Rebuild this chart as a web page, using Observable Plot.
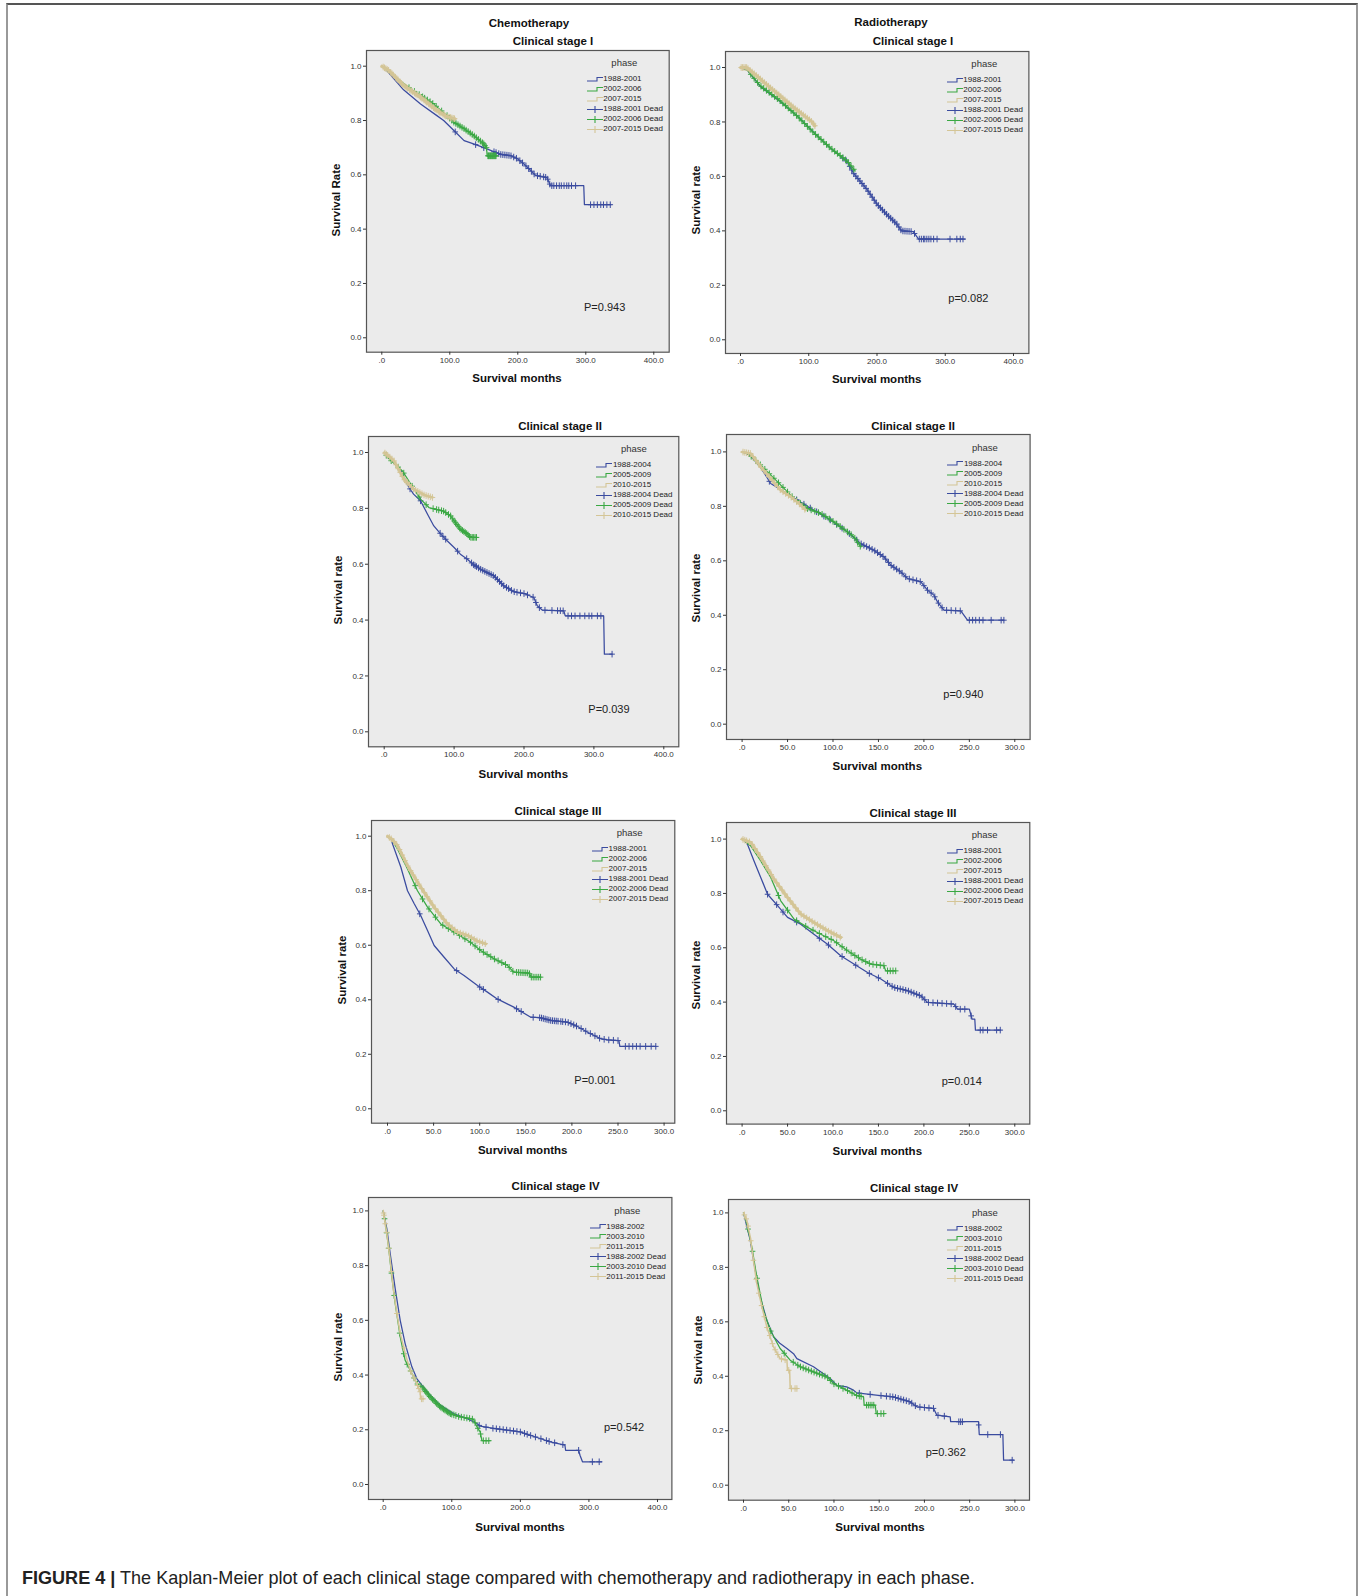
<!DOCTYPE html>
<html><head><meta charset="utf-8">
<script src="https://cdn.jsdelivr.net/npm/d3@7"></script>
<script src="https://cdn.jsdelivr.net/npm/@observablehq/plot@0.6"></script>
<style>
body{margin:0;background:#fff;}
#page{position:relative;width:1362px;height:1596px;overflow:hidden;font-family:"Liberation Sans",Arial,sans-serif;color:#111;}
.abs{position:absolute;white-space:nowrap;line-height:1;}
svg{overflow:visible;}
</style></head><body><div id="page"></div><script>
// ---------- tick labels ----------
const xTicks400 = [0, 100, 200, 300, 400];
const xTicks300 = [0, 50, 100, 150, 200, 250, 300];
const yTicks = [0, 0.2, 0.4, 0.6, 0.8, 1.0];

// ---------- legend labels ----------
const phasesA = ["1988-2001", "2002-2006", "2007-2015"];
const phasesB = ["1988-2004", "2005-2009", "2010-2015"];
const phasesC = ["1988-2002", "2003-2010", "2011-2015"];

// ---------- Chemotherapy, stage I ----------
const chemoI_s1 = [[0,1],[5,0.99],[15,0.962],[32,0.913],[57,0.861],[81,0.818],[91,0.8],[106,0.763],[121,0.726],[135,0.714],[150,0.7],[160,0.69],[175,0.675],[189,0.671],[199,0.66],[209,0.64],[219,0.616],[226,0.598],[243,0.59],[248,0.56],[297,0.56],[298,0.49],[337,0.49]];
const chemoI_s2 = [[0,1],[20,0.96],[42,0.917],[57,0.892],[76,0.861],[96,0.818],[106,0.794],[121,0.77],[135,0.745],[150,0.714],[154,0.7],[155,0.67],[170,0.67]];
const chemoI_s3 = [[0,1],[10,0.985],[32,0.929],[57,0.886],[81,0.837],[95,0.815],[108,0.806]];
const chemoI_c1 = [108,138,150,165,168,172,175,178,181,184,187,190,194,198,203,207,212,216,220,224,229,233,238,241,244,247,250,253,257,261,264,268,272,275,279,285,307,312,317,322,326,331,336];
const chemoI_c2 = [40,48,55,60,63,67,71,75,80,88,96,100,103,106,109,112,115,118,121,124,127,130,133,136,139,142,145,148,150,152,154,156,157,158,159,160,161,162,163,164,165,166,167,168];
const chemoI_c3 = [2,4,6,8,10,13,15,17,20,22,24,27,29,31,34,36,38,41,43,45,48,50,52,55,57,59,62,64,66,69,71,73,76,78,80,83,85,87,90,92,94,97,99,101,103,105,107];

// ---------- Radiotherapy, stage I ----------
const radioI_s1 = [[0,1],[10,0.99],[29,0.93],[58,0.875],[83,0.822],[107,0.762],[131,0.705],[156,0.655],[166,0.61],[185,0.553],[200,0.498],[214,0.461],[229,0.425],[236,0.4],[253,0.397],[261,0.37],[329,0.37]];
const radioI_s2 = [[0,1],[10,0.99],[29,0.933],[58,0.878],[83,0.822],[107,0.761],[131,0.706],[156,0.657],[168,0.62]];
const radioI_s3 = [[0,1],[9,1.0],[24,0.969],[43,0.927],[58,0.896],[78,0.853],[97,0.816],[105,0.8],[109,0.786]];
const radioI_c1 = [150,155,160,163,166,169,172,175,178,181,184,187,190,193,196,199,202,205,208,211,214,217,220,223,226,229,232,235,238,241,244,247,250,255,262,265,268,270,273,276,279,283,288,307,317,322,326];
const radioI_c2 = [15,20,25,30,34,38,42,46,50,54,58,62,66,70,74,78,82,86,90,94,98,102,106,110,114,118,122,126,130,134,138,142,146,150,154,158,162,166];
const radioI_c3 = [1,3,5,7,9,11,14,17,20,23,26,29,32,35,38,41,44,47,50,53,56,59,62,65,68,71,74,77,80,83,86,89,92,95,98,101,104,107,109];

// ---------- Chemotherapy, stage II ----------
const chemoII_s1 = [[0,1],[10,0.975],[25,0.93],[34,0.881],[42,0.851],[52,0.827],[62,0.779],[71,0.737],[81,0.708],[90,0.684],[100,0.66],[109,0.636],[119,0.618],[128,0.598],[138,0.582],[157,0.558],[171,0.523],[185,0.502],[200,0.495],[214,0.481],[219,0.451],[226,0.436],[257,0.433],[259,0.415],[314,0.415],[315,0.278],[326,0.278]];
const chemoII_s2 = [[0,1],[2,0.994],[5,0.982],[26,0.934],[38,0.887],[52,0.833],[64,0.803],[73,0.797],[85,0.79],[95,0.773],[100,0.755],[109,0.726],[119,0.708],[123,0.696],[132,0.696]];
const chemoII_s3 = [[0,1],[5,0.99],[14,0.97],[28,0.905],[42,0.869],[57,0.848],[69,0.839]];
const chemoII_c1 = [37,52,80,84,88,105,118,125,128,130,132,135,138,141,144,147,150,153,156,159,162,165,168,171,175,178,182,186,190,195,200,205,213,217,222,230,240,248,252,256,263,268,273,280,287,293,297,305,310,326];
const chemoII_c2 = [3,10,20,28,40,50,60,70,75,78,82,85,88,92,95,98,100,102,104,106,108,110,112,114,116,118,120,122,124,126,128,130,132];
const chemoII_c3 = [1,3,5,8,11,14,17,20,23,26,29,31,33,36,39,42,45,48,51,54,57,60,63,66,69];

// ---------- Radiotherapy, stage II ----------
const radioII_s1 = [[0,1],[8,0.99],[20,0.945],[31.5,0.884],[42,0.862],[61,0.822],[79,0.786],[97.6,0.749],[116,0.706],[130.5,0.663],[145,0.639],[156,0.614],[163.6,0.584],[174.6,0.559],[182,0.535],[196.6,0.523],[204,0.492],[211,0.474],[215,0.449],[222,0.419],[240.6,0.416],[248,0.382],[288,0.382]];
const radioII_s2 = [[0,1],[8,0.99],[20.5,0.951],[39,0.89],[57,0.829],[72,0.792],[86.5,0.774],[101,0.743],[116,0.706],[123,0.688],[130.5,0.651]];
const radioII_s3 = [[0,1],[9.5,0.994],[20.5,0.945],[31.5,0.902],[42.5,0.859],[53.5,0.835],[62.7,0.81],[70,0.786]];
const radioII_c1 = [30,60,68,75,82,90,97,104,110,118,126,131,134,137,140,143,146,149,152,155,158,161,164,167,170,173,176,180,184,188,192,196,200,204,208,212,216,220,225,230,235,240,250,253.6,257,261,265,274,285,288];
const radioII_c2 = [10,15,20,25,30,35,40,45,50,55,60,64,68,72,76,80,84,88,92,96,100,104,108,112,116,120,124,127,130];
const radioII_c3 = [1,3,5,7,9,12,15,18,21,24,27,30,33,36,39,42,45,48,51,54,57,60,63,66,69];

// ---------- Chemotherapy, stage III ----------
const chemoIII_s1 = [[0,1],[4,0.99],[5.4,0.972],[14.5,0.886],[21.7,0.8],[29,0.752],[36,0.709],[43.4,0.654],[50.6,0.599],[61.4,0.556],[72.3,0.513],[83,0.489],[97.6,0.452],[108.4,0.428],[119,0.403],[137,0.373],[155.4,0.336],[166,0.334],[177,0.324],[195,0.318],[206,0.302],[217,0.281],[227.7,0.263],[231,0.257],[238.5,0.253],[251,0.25],[252,0.229],[291,0.229]];
const chemoIII_s2 = [[0,1],[5,0.985],[10.8,0.953],[21.7,0.88],[32.5,0.8],[43.4,0.74],[57.8,0.678],[72.3,0.648],[90,0.611],[101,0.581],[115.7,0.55],[130,0.526],[137,0.501],[153.6,0.498],[156,0.483],[166,0.483]];
const chemoIII_s3 = [[0,1],[5.4,0.987],[10.8,0.966],[21.7,0.892],[36,0.813],[50.6,0.74],[65,0.678],[76,0.648],[86.7,0.636],[97.6,0.615],[106.6,0.605]];
const chemoIII_c1 = [35,75,100,104,120,140,145,158,165,167,169,171,173,175,177,179,181,183,185,188,190,193,196,199,202,205,210,215,220,225,230,235,240,245,250,258,262,266,270,274,280,286,291];
const chemoIII_c2 = [30,38,45,52,60,66,72,78,84,90,95,100,104,108,112,116,120,124,128,132,136,140,142,144,146,148,150,152,154,156,158,160,162,164,166];
const chemoIII_c3 = [2,4,7,10,13,16,19,22,25,28,31,34,37,40,43,46,49,52,55,58,61,64,67,70,73,76,79,82,85,88,91,94,97,100,103,106];

// ---------- Radiotherapy, stage III ----------
const radioIII_s1 = [[0,1],[3,0.995],[6,0.98],[13,0.92],[20.5,0.859],[28,0.797],[39,0.755],[50,0.712],[64.5,0.687],[79,0.65],[94,0.613],[108.5,0.571],[123,0.54],[138,0.509],[152.6,0.485],[167,0.454],[182,0.442],[196.6,0.423],[204,0.399],[233,0.393],[237,0.374],[250,0.374],[253,0.337],[256,0.337],[256.7,0.297],[284.6,0.297]];
const radioIII_s2 = [[0,1],[9.5,0.975],[20.5,0.92],[31.5,0.859],[42.5,0.773],[57,0.706],[72,0.675],[86.5,0.65],[101,0.626],[116,0.589],[130.5,0.558],[141.6,0.54],[156,0.534],[158,0.515],[169,0.515]];
const radioIII_s3 = [[0,1],[9.5,0.988],[20.5,0.933],[35,0.853],[50,0.785],[64.5,0.724],[79,0.693],[94,0.663],[108.5,0.638]];
const radioIII_c1 = [28,38,45,60,85,95,110,125,140,150,160,165,168,171,174,177,180,183,186,189,192,195,198,201,205,210,215,220,225,230,235,240,245,252,262,265,270,280,284];
const radioIII_c2 = [40,50,60,70,78,85,92,98,104,110,115,120,124,128,132,136,140,144,148,152,156,160,163,166,169];
const radioIII_c3 = [1,3,5,8,11,14,17,20,23,26,29,32,35,38,41,44,47,50,53,56,59,62,65,68,71,74,77,80,83,86,89,92,95,98,101,104,108];

// ---------- Chemotherapy, stage IV ----------
const chemoIV_s1 = [[0,1],[5.3,0.935],[10.2,0.844],[17.5,0.716],[24.8,0.6],[32,0.515],[41.8,0.43],[49,0.387],[56.4,0.363],[68.5,0.326],[83,0.29],[102.5,0.259],[122,0.241],[136.6,0.223],[141.4,0.213],[161,0.205],[180,0.199],[200,0.192],[214,0.18],[229,0.168],[243.5,0.156],[265,0.144],[266,0.125],[285,0.125],[287,0.107],[290.6,0.083],[319,0.083]];
const chemoIV_s2 = [[0,1],[3,0.957],[7.8,0.868],[12.6,0.759],[17.5,0.661],[24.8,0.54],[32,0.454],[39.4,0.418],[49,0.369],[56.4,0.357],[68.5,0.32],[83,0.284],[97.7,0.259],[112,0.247],[127,0.241],[131.7,0.238],[136.6,0.211],[141.4,0.192],[144,0.16],[156,0.16]];
const chemoIV_s3 = [[0,1],[5.3,0.917],[10.2,0.82],[15,0.71],[20,0.625],[24.8,0.552],[32,0.479],[39.4,0.418],[46.7,0.381],[54,0.339],[54.5,0.313],[58.8,0.313]];
const chemoIV_c1 = [140,150,160,165,170,175,180,185,190,195,200,206,210,215,222,230,238,242,250,262,285,305,315];
const chemoIV_c2 = [2,5,8,12,16,24,30,35,40,45,50,55,58,60,62,64,66,68,70,72,74,76,78,80,82,84,86,88,90,92,94,96,98,100,103,106,110,114,118,122,126,130,134,138,142,146,150,154];
const chemoIV_c3 = [0.5,1,3,5,8,12,20,30,40,45,50,52,54,56,58];

// ---------- Radiotherapy, stage IV ----------
const radioIV_s1 = [[0,1],[7.4,0.9],[12.9,0.79],[18.4,0.692],[25.8,0.606],[33.2,0.545],[40.5,0.52],[48,0.502],[55.3,0.483],[59,0.465],[77.4,0.435],[95.8,0.392],[103,0.367],[114,0.361],[121.6,0.349],[125.3,0.339],[149,0.33],[166,0.324],[184,0.306],[191.6,0.288],[210,0.282],[213.8,0.257],[228.5,0.251],[229,0.233],[259.8,0.233],[260.6,0.186],[286.7,0.186],[287.5,0.092],[298.5,0.092]];
const radioIV_s2 = [[0,1],[3.7,0.961],[9.2,0.875],[14.7,0.765],[22,0.643],[29.5,0.569],[40.5,0.502],[51.6,0.459],[62.7,0.435],[77.4,0.416],[92,0.398],[99.5,0.373],[114,0.349],[125,0.33],[132.7,0.324],[133.4,0.294],[145.6,0.294],[146.7,0.263],[156.6,0.263]];
const radioIV_s3 = [[0,1],[3.7,0.973],[7.4,0.912],[11,0.826],[14.7,0.74],[20.3,0.655],[25.8,0.581],[33.2,0.508],[40.5,0.465],[48,0.459],[48.6,0.422],[51,0.422],[51.6,0.355],[59.7,0.355]];
const radioIV_c1 = [128,140,152,158,162,165,168,171,174,177,180,183,186,190,195,200,205,210,215,222,238,240,242,260,270,284,297];
const radioIV_c2 = [5,10,15,30,45,55,60,63,66,69,72,75,78,81,84,87,90,93,96,100,105,110,115,120,125,128,130,136,138,140,142,144,148,152,155];
const radioIV_c3 = [1,3,5,8,11,14,17,20,23,26,29,32,35,38,42,46,50,53,57,59];

// ---------- p values & titles ----------
const pValues = ["P=0.943","p=0.082","P=0.039","p=0.940","P=0.001","p=0.014","p=0.542","p=0.362"];
const stageTitles = ["Clinical stage I","Clinical stage I","Clinical stage II","Clinical stage II","Clinical stage III","Clinical stage III","Clinical stage IV","Clinical stage IV"];

// ---------- styling / layout ----------
const colors = ["#3a4b9f", "#3aa843", "#d4c596"];
const page = document.getElementById("page");

function txt(s, x, y, css, anchor = "center") {
  const d = document.createElement("div");
  d.className = "abs";
  d.textContent = s;
  d.style.left = x + "px";
  d.style.top = y + "px";
  Object.assign(d.style, css);
  d.style.transform = anchor === "center" ? "translate(-50%,-50%)" : "translate(0,-50%)";
  page.appendChild(d);
  return d;
}

// value of a drawn curve at time t (censor marks sit on the curve)
function onCurve(curve, t) {
  for (let i = 0; i < curve.length - 1; i++) {
    const [t0, s0] = curve[i], [t1, s1] = curve[i + 1];
    if (t >= t0 && t <= t1) {
      if (t1 === t0) return s1;
      if (i + 2 < curve.length && curve[i + 2][0] === t1 && t === t1) return curve[i + 2][1];
      return s0 + (s1 - s0) * (t - t0) / (t1 - t0);
    }
  }
  return curve[curve.length - 1][1];
}

const censorSymbol = {draw(ctx) { ctx.moveTo(0, -3.3); ctx.lineTo(0, 3.3); ctx.moveTo(-2.8, 0); ctx.lineTo(2.8, 0); }};

const panels = [
  {box:[366,50,668.7,351.7], xp:[381.3,653.3], xTicks:xTicks400, yp:[337.3,65.7], s:[chemoI_s1,chemoI_s2,chemoI_s3], c:[chemoI_c1,chemoI_c2,chemoI_c3], phases:phasesA, tanW:3, p:[584,306.7], title:[553,41.7], xl:[517,379], yl:[337,200], ylab:"Survival Rate"},
  {box:[725.3,50.7,1028.7,352.7], xp:[740.3,1013.3], xTicks:xTicks400, yp:[339,66.7], s:[radioI_s1,radioI_s2,radioI_s3], c:[radioI_c1,radioI_c2,radioI_c3], phases:phasesA, tanW:3, p:[948.3,298.3], title:[913,42], xl:[876.7,380], yl:[697.3,200], ylab:"Survival rate"},
  {box:[368,435.7,678.3,746], xp:[383.7,663.3], xTicks:xTicks400, yp:[731,451.7], s:[chemoII_s1,chemoII_s2,chemoII_s3], c:[chemoII_c1,chemoII_c2,chemoII_c3], phases:phasesB, tanW:2.5, p:[588.3,709.3], title:[560,426.7], xl:[523.3,775], yl:[339,590], ylab:"Survival rate"},
  {box:[725.7,434.3,1029.3,739.3], xp:[741.3,1014], xTicks:xTicks300, yp:[724,451.7], s:[radioII_s1,radioII_s2,radioII_s3], c:[radioII_c1,radioII_c2,radioII_c3], phases:phasesB, tanW:2.5, p:[943.3,694], title:[913,427.3], xl:[877.3,767], yl:[697.3,588.3], ylab:"Survival rate"},
  {box:[370.7,820,674,1122.7], xp:[386.7,663.3], xTicks:xTicks300, yp:[1108.3,835.7], s:[chemoIII_s1,chemoIII_s2,chemoIII_s3], c:[chemoIII_c1,chemoIII_c2,chemoIII_c3], phases:phasesA, tanW:3, p:[574.3,1080], title:[558,811.7], xl:[522.7,1150.7], yl:[342.7,970], ylab:"Survival rate"},
  {box:[725.7,821.7,1029,1123.3], xp:[741.3,1014], xTicks:xTicks300, yp:[1110,838.3], s:[radioIII_s1,radioIII_s2,radioIII_s3], c:[radioIII_c1,radioIII_c2,radioIII_c3], phases:phasesA, tanW:3, p:[941.7,1080.7], title:[913,814], xl:[877.3,1151.7], yl:[697.3,975], ylab:"Survival rate"},
  {box:[368.3,1197.3,671.7,1499.3], xp:[383,657.3], xTicks:xTicks400, yp:[1484.3,1210.7], s:[chemoIV_s1,chemoIV_s2,chemoIV_s3], c:[chemoIV_c1,chemoIV_c2,chemoIV_c3], phases:phasesC, tanW:1.5, p:[604,1426.7], title:[555.7,1187.3], xl:[520,1527.7], yl:[339,1346.7], ylab:"Survival rate"},
  {box:[728.3,1199.3,1029.3,1500], xp:[743.3,1014.7], xTicks:xTicks300, yp:[1485,1212.7], s:[radioIV_s1,radioIV_s2,radioIV_s3], c:[radioIV_c1,radioIV_c2,radioIV_c3], phases:phasesC, tanW:1.5, p:[925.7,1452.3], title:[914,1189], xl:[880,1528.3], yl:[699,1350], ylab:"Survival rate"}
];

const boldCss = {fontWeight: "bold", fontSize: "11.5px", color: "#111"};

panels.forEach((P, idx) => {
  const [L, T, R, B] = P.box;
  const m = {left: 40, right: 8, top: 6, bottom: 24};
  const svgL = L - m.left, svgT = T - m.top;
  const W = (R - L) + m.left + m.right, H = (B - T) + m.top + m.bottom;
  const xMax = P.xTicks[P.xTicks.length - 1];
  const marks = [Plot.frame({fill: "#ebebeb", stroke: "#555", strokeWidth: 1.2})];
  marks.push(Plot.axisX({ticks: P.xTicks, tickFormat: d => d === 0 ? ".0" : d.toFixed(1), tickSize: 3, tickPadding: 2, fontSize: 8, label: null}));
  marks.push(Plot.axisY({ticks: yTicks, tickFormat: d3.format(".1f"), tickSize: 3, tickPadding: 2, fontSize: 8, label: null}));
  [0, 1, 2].forEach(k => {
    marks.push(Plot.line(P.s[k], {x: d => d[0], y: d => d[1], stroke: colors[k], strokeWidth: k === 2 ? P.tanW : 1.25}));
    const pts = P.c[k].map(t => [t, onCurve(P.s[k], t)]);
    marks.push(Plot.dot(pts, {x: d => d[0], y: d => d[1], symbol: censorSymbol, stroke: colors[k], fill: "none", strokeWidth: 1, r: 3}));
  });
  const chart = Plot.plot({
    width: W, height: H,
    marginLeft: m.left, marginRight: m.right, marginTop: m.top, marginBottom: m.bottom,
    x: {domain: [0, xMax], range: [P.xp[0] - svgL, P.xp[1] - svgL]},
    y: {domain: [0, 1], range: [P.yp[0] - svgT, P.yp[1] - svgT]},
    style: {background: "transparent", fontFamily: "Liberation Sans, Arial, sans-serif", color: "#333", overflow: "visible"},
    marks
  });
  chart.style.position = "absolute";
  chart.style.left = svgL + "px";
  chart.style.top = svgT + "px";
  page.appendChild(chart);

  txt(stageTitles[idx], P.title[0], P.title[1], boldCss);
  txt("Survival months", P.xl[0], P.xl[1], boldCss);
  const yl = txt(P.ylab, P.yl[0], P.yl[1], boldCss);
  yl.style.transform = "translate(-50%,-50%) rotate(-90deg)";
  txt(pValues[idx], P.p[0], P.p[1], {fontSize: "11px", color: "#222"}, "left");

  // legend
  txt("phase", R - 44.4, T + 13.3, {fontSize: "9.5px", color: "#333"});
  const labels = [...P.phases, ...P.phases.map(s => s + " Dead")];
  labels.forEach((lab, i) => {
    const y = T + 29.3 + 10 * i;
    const k = i % 3;
    const ic = document.createElementNS("http://www.w3.org/2000/svg", "svg");
    ic.setAttribute("width", 17); ic.setAttribute("height", 9);
    ic.style.position = "absolute";
    ic.style.left = (R - 82) + "px";
    ic.style.top = (y - 4.5) + "px";
    const path = document.createElementNS("http://www.w3.org/2000/svg", "path");
    path.setAttribute("d", i < 3 ? "M0,6H10V2.5H16" : "M0,4.5H16M8,1V8");
    path.setAttribute("stroke", colors[k]);
    path.setAttribute("fill", "none");
    path.setAttribute("stroke-width", 1.1);
    ic.appendChild(path);
    page.appendChild(ic);
    txt(lab, R - 65.4, y, {fontSize: "8px", color: "#222"}, "left");
  });
});

txt("Chemotherapy", 529, 24, boldCss);
txt("Radiotherapy", 891, 23.3, boldCss);

const border = document.createElement("div");
Object.assign(border.style, {position: "absolute", left: "6px", top: "3px", width: "1348px", height: "1600px", borderTop: "2px solid #555", borderLeft: "2px solid #999", borderRight: "2px solid #999"});
page.appendChild(border);

const cap = document.createElement("div");
cap.className = "abs";
Object.assign(cap.style, {left: "22px", top: "1577px", fontSize: "19px", transform: "translate(0,-50%) scaleX(0.95)", transformOrigin: "left center", color: "#222"});
cap.innerHTML = '<b>FIGURE 4 |</b> The Kaplan-Meier plot of each clinical stage compared with chemotherapy and radiotherapy in each phase.';
page.appendChild(cap);
</script></body></html>
